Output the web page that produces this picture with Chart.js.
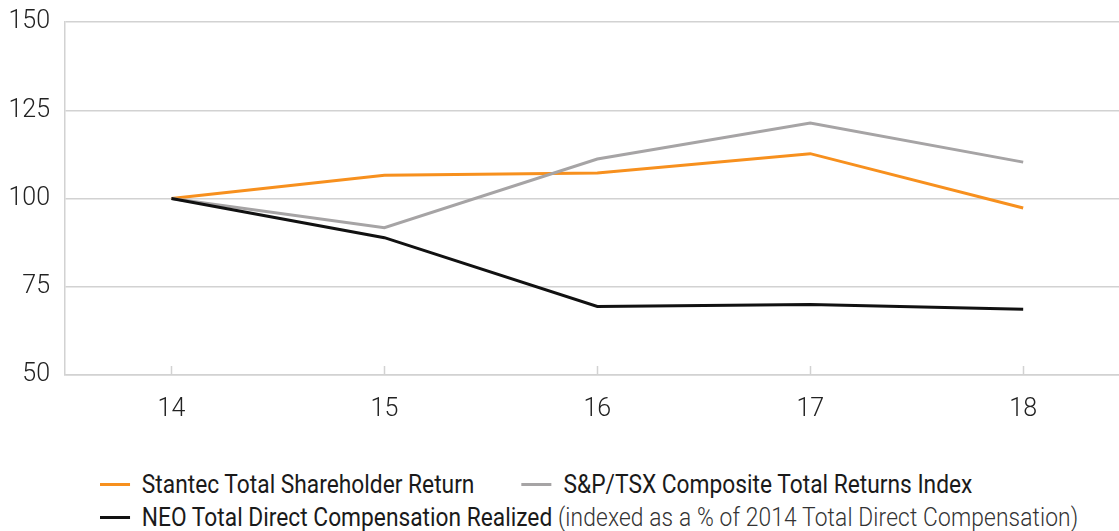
<!DOCTYPE html>
<html>
<head>
<meta charset="utf-8">
<script src="https://cdn.jsdelivr.net/npm/chart.js@4/dist/chart.umd.min.js"></script>
<style>
  html,body{margin:0;padding:0;background:#fff;}
  body{width:1119px;height:531px;position:relative;overflow:hidden;
    font-family:"Roboto",sans-serif;}
  #wrap{position:absolute;left:0;top:-8px;width:1119px;height:453px;}
  #legend{position:absolute;left:100px;top:468px;font-size:25px;color:#1a1a1a;line-height:33px;
    transform:scaleX(0.91);transform-origin:0 0;}
  .row{display:flex;align-items:center;white-space:nowrap;}
  .item{display:flex;align-items:center;}
  .sw{display:inline-block;width:33px;height:3px;margin-right:13px;}
  .light{color:#333;font-weight:300;letter-spacing:0.15px;}
</style>
</head>
<body>
<div id="wrap"><canvas id="chart"></canvas></div>
<div id="legend"></div>
<script>
/* data */
const years=[14,15,16,17,18];
const stantec=[100,106.6,107.2,112.7,97.3];
const tsx=[100,91.7,111.2,121.4,110.3];
const neo=[100,88.9,69.4,70.0,68.6];
const yTicks=[50,75,100,125,150];

const ORANGE="#f7901e", GREY="#a6a4a5", BLACK="#111111", GRID="#d2d2d2";
const TICKFONT={family:"Roboto, sans-serif",size:25,weight:300};

const pts=arr=>years.map((x,i)=>({x:x,y:arr[i]}));

// little tick marks pointing up into the plot from the x axis
const upTicks={
  id:"upTicks",
  afterDraw(c){
    const xs=c.scales.x, ys=c.scales.y, g=c.ctx;
    const y0=ys.getPixelForValue(50);
    g.save();
    g.strokeStyle=GRID;g.lineWidth=1.5;
    years.forEach(v=>{
      const px=Math.round(xs.getPixelForValue(v))+0.5;
      g.beginPath();g.moveTo(px,y0);g.lineTo(px,y0-9);g.stroke();
    });
    g.restore();
  }
};

const ds=(label,arr,col)=>({label:label,data:pts(arr),borderColor:col,backgroundColor:col,
  borderWidth:3,pointRadius:0,tension:0,fill:false});

new Chart(document.getElementById("chart"),{
  type:"line",
  data:{datasets:[
    ds("NEO Total Direct Compensation Realized",neo,BLACK),
    ds("S&P/TSX Composite Total Returns Index",tsx,GREY),
    ds("Stantec Total Shareholder Return",stantec,ORANGE)
  ]},
  options:{
    responsive:true,maintainAspectRatio:false,animation:false,
    layout:{padding:{left:0,top:0,right:0,bottom:0}},
    plugins:{legend:{display:false},tooltip:{enabled:false}},
    scales:{
      x:{type:"linear",min:13.5,max:18.45,
        afterBuildTicks:a=>{a.ticks=years.map(v=>({value:v}));},
        grid:{drawOnChartArea:false,drawTicks:false},
        border:{display:true,color:GRID,width:1.5},
        ticks:{padding:20,color:"#222",font:TICKFONT,callback:v=>String(v)}},
      y:{min:50,max:150,
        afterBuildTicks:a=>{a.ticks=yTicks.map(v=>({value:v}));},
        afterFit:a=>{a.width=65;},
        grid:{color:GRID,lineWidth:1.5,drawTicks:false},
        border:{display:true,color:GRID,width:1.5},
        ticks:{padding:15,color:"#222",font:TICKFONT}}
    }
  },
  plugins:[upTicks]
});

// legend drawn as html text
const legendRows=[
  [{col:ORANGE,text:"Stantec Total Shareholder Return"},{col:GREY,text:"S&P/TSX Composite Total Returns Index"}],
  [{col:BLACK,text:"NEO Total Direct Compensation Realized",extra:" (indexed as a % of 2014 Total Direct Compensation)"}]
];
const lg=document.getElementById("legend");
legendRows.forEach(r=>{
  const row=document.createElement("div");row.className="row";
  r.forEach((it,i)=>{
    const el=document.createElement("span");el.className="item";
    if(i>0)el.style.marginLeft="52px";
    const sw=document.createElement("span");sw.className="sw";sw.style.background=it.col;
    el.appendChild(sw);
    const t=document.createElement("span");t.textContent=it.text;el.appendChild(t);
    if(it.extra){const e=document.createElement("span");e.className="light";e.textContent=it.extra;e.style.whiteSpace="pre";el.appendChild(e);}
    row.appendChild(el);
  });
  lg.appendChild(row);
});
</script>
</body>
</html>
